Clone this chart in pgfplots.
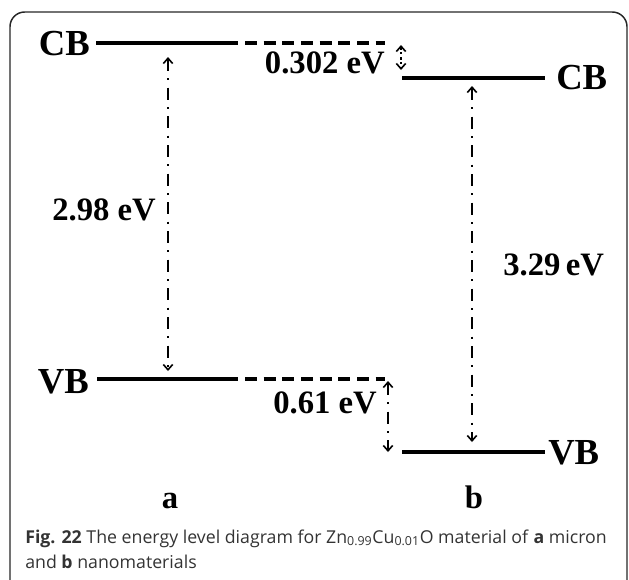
\documentclass[border=0pt]{standalone}
\usepackage{pgfplots}
\pgfplotsset{compat=1.18}
\usepackage{fontspec}
\setmainfont{Liberation Serif}
\newfontfamily\capfont{Open Sans}
\usetikzlibrary{arrows.meta}
\tikzset{
  lvl/.style={line width=3.5pt, black},
  dlvl/.style={line width=3.5pt, black, dash pattern=on 9pt off 5pt},
  arr/.style={line width=1.4pt, black, dash pattern=on 9pt off 5.5pt on 1.5pt off 5.5pt,
     {Straight Barb[length=4pt,width=7pt,line width=1.2pt]}-{Straight Barb[length=4pt,width=7pt,line width=1.2pt]}},
  lab/.style={font=\fontsize{27.5}{29}\selectfont\bfseries},
  val/.style={font=\fontsize{24.5}{26}\selectfont\bfseries},
}
\begin{document}
\begin{tikzpicture}
\begin{axis}[
  width=471.75pt, height=434.25pt, scale only axis,
  xmin=0, xmax=629, ymin=0, ymax=579, y dir=reverse,
  hide axis, clip=true,
]
\addplot[draw=none] coordinates {(0,0) (629,579)};
% frame
\addplot[line width=1.1pt, black!85, rounded corners=11pt] coordinates {(10,600) (10,12) (627,12) (627,600)};
% levels a
\addplot[lvl] coordinates {(96,43) (238,43)};
\addplot[dlvl] coordinates {(245,43) (385,43)};
\addplot[lvl] coordinates {(97,379) (238,379)};
\addplot[dlvl] coordinates {(245,379) (385,379)};
% levels b
\addplot[lvl] coordinates {(402,78) (545,78)};
\addplot[lvl] coordinates {(402,452) (545,452)};
% arrows
\addplot[arr] coordinates {(168,57) (168,371)};
\addplot[arr] coordinates {(472,86) (472,442)};
\addplot[arr, dash pattern=on 2pt off 2pt on 1.5pt off 2pt] coordinates {(401,45) (401,70)};
\addplot[arr] coordinates {(388,381) (388,452)};
% labels
\node[lab, anchor=base east, inner sep=0pt] at (axis cs:90,55) {CB};
\node[lab, anchor=base east, inner sep=0pt] at (axis cs:89,393) {VB};
\node[lab, anchor=base west, inner sep=0pt] at (axis cs:556,89) {CB};
\node[lab, anchor=base west, inner sep=0pt] at (axis cs:548,464) {VB};
\node[val, anchor=base east, inner sep=0pt] at (axis cs:385,73) {0.302 eV};
\node[val, anchor=base east, inner sep=0pt] at (axis cs:377,413) {0.61 eV};
\node[val, anchor=base west, inner sep=0pt] at (axis cs:52,220) {2.98 eV};
\node[val, anchor=base west, inner sep=0pt] at (axis cs:503,275) {3.29\,eV};
\node[val, anchor=base, inner sep=0pt] at (axis cs:170,508) {a};
\node[val, anchor=base, inner sep=0pt] at (axis cs:474,508) {b};
\node[anchor=base west, inner sep=0pt, text=black!80, font=\capfont\fontsize{13.3}{16}\selectfont] at (axis cs:25,543)
  {\textbf{Fig. 22} The energy level diagram for Zn\textsubscript{0.99}Cu\textsubscript{0.01}O material of \textbf{a} micron};
\node[anchor=base west, inner sep=0pt, text=black!80, font=\capfont\fontsize{13.3}{16}\selectfont] at (axis cs:25,568)
  {and \textbf{b} nanomaterials};
\end{axis}
\end{tikzpicture}
\end{document}
